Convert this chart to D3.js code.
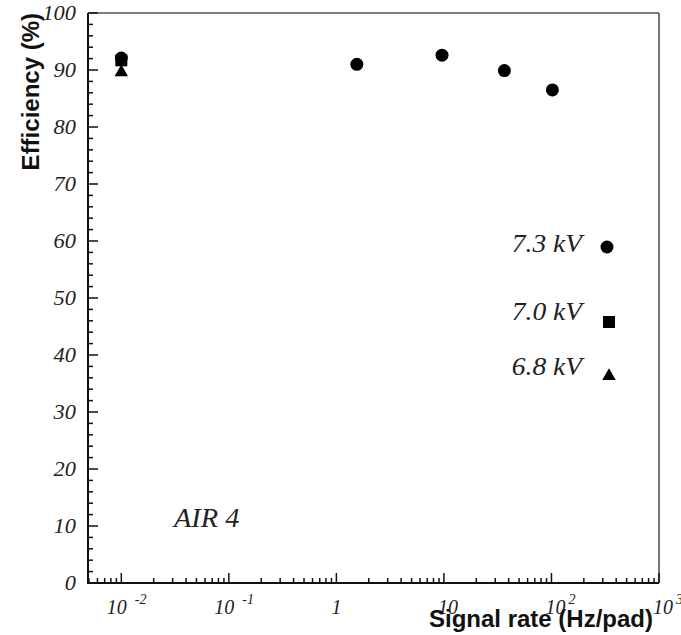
<!DOCTYPE html>
<html>
<head>
<meta charset="utf-8">
<script src="https://cdn.jsdelivr.net/npm/d3@7"></script>
<style>
  html, body { margin: 0; padding: 0; background: #fff; }
  svg { display: block; }
</style>
</head>
<body>
<svg id="chart" width="681" height="635"></svg>
<script>
// ---- data ----
const rate73 = [0.01, 1.55, 9.6, 36.5, 102];
const eff73  = [92.1, 91.0, 92.6, 89.9, 86.5];
const rate70 = [0.01];
const eff70  = [91.7];
const rate68 = [0.01];
const eff68  = [89.6];
const legendLabels = ["7.3 kV", "7.0 kV", "6.8 kV"];
const yTickValues = [0, 10, 20, 30, 40, 50, 60, 70, 80, 90, 100];
const xTickExponents = [-2, -1, 0, 1, 2, 3];
const xTitle = "Signal rate (Hz/pad)";
const yTitle = "Efficiency (%)";
const annotation = "AIR 4";

// ---- layout ----
(function () {
const W = 681, H = 635;
const pLeft = 88, pRight = 659, pTop = 13, pBottom = 583;
const svg = d3.select("#chart");
svg.append("rect").attr("width", W).attr("height", H).attr("fill", "#fff");

const x = d3.scaleLog().domain([0.0049, 1000]).range([pLeft, pRight]);
const y = d3.scaleLinear().domain([0, 100]).range([pBottom, pTop]);

const serif = "'Liberation Serif', 'Times New Roman', serif";
const sans = "'Liberation Sans', Arial, sans-serif";

// frame (top & right)
svg.append("line").attr("x1", pLeft).attr("x2", pRight).attr("y1", pTop).attr("y2", pTop)
  .attr("stroke", "#555").attr("stroke-width", 1.6);
svg.append("line").attr("x1", pRight).attr("x2", pRight).attr("y1", pTop).attr("y2", pBottom)
  .attr("stroke", "#555").attr("stroke-width", 1.6);

// y axis ticks
const yMinor = d3.range(0, 101, 2);
const gy = svg.append("g");
gy.selectAll("line").data(yMinor).join("line")
  .attr("x1", pLeft).attr("x2", d => pLeft + (d % 10 === 0 ? 10 : 5))
  .attr("y1", d => y(d)).attr("y2", d => y(d))
  .attr("stroke", "#111").attr("stroke-width", 1.5);
gy.selectAll("text").data(yTickValues).join("text")
  .attr("transform", d => `translate(${pLeft - 12},${y(d) + 7}) scale(1.12,1)`)
  .attr("text-anchor", "end")
  .attr("font-family", serif).attr("font-style", "italic").attr("font-size", 20)
  .attr("fill", "#222")
  .text(d => d);
svg.append("line").attr("x1", pLeft).attr("x2", pLeft).attr("y1", pTop).attr("y2", pBottom + 1)
  .attr("stroke", "#111").attr("stroke-width", 2);

// x axis ticks
const xMinor = [];
for (let e = -3; e <= 2; e++) for (let m = 1; m <= 9; m++) {
  const v = m * Math.pow(10, e);
  if (v >= 0.0049 && v <= 1000) xMinor.push({v, major: m === 1});
}
xMinor.push({v: 1000, major: true});
const gx = svg.append("g");
gx.selectAll("line").data(xMinor).join("line")
  .attr("x1", d => x(d.v)).attr("x2", d => x(d.v))
  .attr("y1", pBottom).attr("y2", d => pBottom - (d.major ? 10 : 5))
  .attr("stroke", "#111").attr("stroke-width", 1.5);
svg.append("line").attr("x1", pLeft - 1).attr("x2", pRight).attr("y1", pBottom).attr("y2", pBottom)
  .attr("stroke", "#111").attr("stroke-width", 2);

const xl = gx.selectAll("text").data(xTickExponents).join("text")
  .attr("font-family", serif).attr("font-style", "italic").attr("font-size", 20)
  .attr("fill", "#222")
  .attr("y", 614)
  .attr("x", e => {
    const t = x(Math.pow(10, e));
    if (e === 0) return t;
    return e < 0 ? t - 14.5 : t - 6;
  })
  .attr("text-anchor", e => e === 0 ? "middle" : "start");
xl.each(function (e) {
  const s = d3.select(this);
  if (e === 0) { s.text("1"); return; }
  s.append("tspan").text("10");
  if (e !== 1) {
    s.append("tspan").attr("font-size", 14).attr("dy", -10).attr("dx", e < 0 ? 8 : 3)
      .text(e < 0 ? "-" + (-e) : String(e));
  }
});

// axis titles
svg.append("text")
  .attr("transform", `translate(39,${pTop}) rotate(-90)`)
  .attr("text-anchor", "end")
  .attr("font-family", sans).attr("font-weight", "bold").attr("font-size", 24)
  .attr("fill", "#111")
  .text(yTitle);
svg.append("text")
  .attr("x", 653).attr("y", 627).attr("text-anchor", "end")
  .attr("font-family", sans).attr("font-weight", "bold").attr("font-size", 24)
  .attr("fill", "#111")
  .text(xTitle);

// annotation
svg.append("text")
  .attr("transform", "translate(174,527) scale(1.05,1)")
  .attr("font-family", serif).attr("font-style", "italic").attr("font-size", 27)
  .attr("fill", "#222")
  .text(annotation);

// markers
const symCircle = d3.symbol().type(d3.symbolCircle).size(Math.PI * 6.5 * 6.5);
const symSquare = d3.symbol().type(d3.symbolSquare).size(12 * 12);
const symTri = d3.symbol().type(d3.symbolTriangle).size(Math.sqrt(3) / 4 * 13.5 * 13.5);

const toPts = (xs, ys) => xs.map((v, i) => ({x: v, y: ys[i]}));
svg.append("g").selectAll("path").data(toPts(rate68, eff68)).join("path")
  .attr("d", symTri).attr("transform", d => `translate(${x(d.x)},${y(d.y)})`).attr("fill", "#000");
svg.append("g").selectAll("path").data(toPts(rate70, eff70)).join("path")
  .attr("d", symSquare).attr("transform", d => `translate(${x(d.x)},${y(d.y)})`).attr("fill", "#000");
svg.append("g").selectAll("path").data(toPts(rate73, eff73)).join("path")
  .attr("d", symCircle).attr("transform", d => `translate(${x(d.x)},${y(d.y)})`).attr("fill", "#000");

// legend
const legendSyms = [symCircle, symSquare, symTri];
const legendTextY = [252, 320, 375];
const legendMarkY = [247, 322, 376];
const legendMarkX = [607, 609, 609];
const lg = svg.append("g");
legendLabels.forEach((lab, i) => {
  lg.append("text")
    .attr("transform", `translate(582,${legendTextY[i]}) scale(1.1,1)`)
    .attr("text-anchor", "end")
    .attr("font-family", serif).attr("font-style", "italic").attr("font-size", 25)
    .attr("fill", "#222").text(lab);
  lg.append("path").attr("d", legendSyms[i])
    .attr("transform", `translate(${legendMarkX[i]},${legendMarkY[i]})`).attr("fill", "#000");
});
})();
</script>
</body>
</html>
